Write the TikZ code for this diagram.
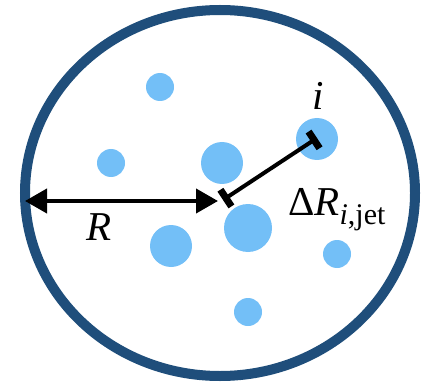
\documentclass[tikz,border=0pt]{standalone}
\usepackage{fontspec}
\setmainfont{Liberation Serif}
\usetikzlibrary{arrows.meta}
\definecolor{ringblue}{HTML}{1F4E7B}
\definecolor{blobblue}{HTML}{73BFF7}
\tikzset{
  ring/.style={draw=ringblue, line width=10pt},
  blob/.style={circle, fill=blobblue, inner sep=0pt, minimum size=#1},
  rarrow/.style={line width=4pt, {Triangle[length=22pt,width=24pt]}-{Triangle[length=22pt,width=24pt]}},
  drline/.style={line width=4pt, {Bar[width=20pt,line width=7pt]}-{Bar[width=20pt,line width=7pt]}},
  lbl/.style={font=\fontsize{41}{45}\selectfont, inner sep=0pt}
}
\begin{document}
\begin{tikzpicture}[x=1pt,y=-1pt]
\useasboundingbox (0,0) rectangle (425,382);
\draw[ring] (220,193) ellipse [x radius=195, y radius=183];
\node[blob=28pt] (b1) at (160,87) {};
\node[blob=28pt] (b2) at (111,163) {};
\node[blob=42pt] (b3) at (222,163) {};
\node[blob=42pt] (bi) at (317,139) {};
\node[blob=48pt] (b4) at (248,228) {};
\node[blob=42pt] (b5) at (171,246) {};
\node[blob=28pt] (b6) at (337,254) {};
\node[blob=28pt] (b7) at (248,312) {};
\coordinate (edge) at (25,201);
\coordinate (jet) at (218,201);
\coordinate (jetc) at (223,200);
\coordinate (ci) at (317,138);
\draw[rarrow] (edge) -- (jet);
\draw[drline] (jetc) -- (ci);
\node[lbl, anchor=base] (lR) at (99,240) {\textit{R}};
\node[lbl, anchor=base] (li) at (318,110) {\textit{i}};
\node[lbl, anchor=base west] (ldr) at (288,215) {Δ\textit{R}\raisebox{-9pt}{\fontsize{30}{31}\selectfont\textit{i},jet}};
\end{tikzpicture}
\end{document}
